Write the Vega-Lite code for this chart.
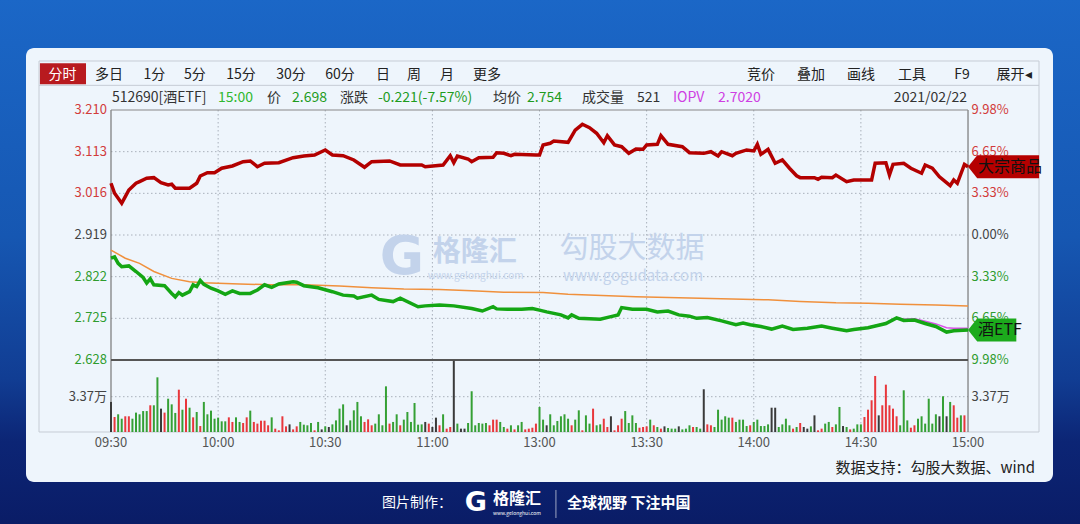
{
"$schema": "https://vega.github.io/schema/vega-lite/v6.json",
"width": 1027,
"height": 434,
"autosize": {"type": "none"},
"padding": {"left": 26, "top": 48, "right": 27, "bottom": 42},
"background": "#1659b4",
"config": {"view": {"stroke": null}, "font": "Noto Sans CJK SC"},
"data": {"values": [{}]},
"datasets": {
"price": [{"i":0,"p":2.865},{"i":1,"p":2.868},{"i":2,"p":2.853},{"i":3,"p":2.845},{"i":5,"p":2.847},{"i":7,"p":2.834},{"i":9,"p":2.82},{"i":10,"p":2.807},{"i":11,"p":2.817},{"i":12,"p":2.803},{"i":15,"p":2.801},{"i":17,"p":2.783},{"i":18,"p":2.775},{"i":19,"p":2.785},{"i":20,"p":2.779},{"i":22,"p":2.787},{"i":23,"p":2.803},{"i":24,"p":2.799},{"i":25,"p":2.813},{"i":26,"p":2.804},{"i":28,"p":2.795},{"i":30,"p":2.789},{"i":32,"p":2.781},{"i":34,"p":2.789},{"i":36,"p":2.783},{"i":39,"p":2.783},{"i":41,"p":2.791},{"i":43,"p":2.803},{"i":45,"p":2.797},{"i":47,"p":2.805},{"i":51,"p":2.81},{"i":52,"p":2.809},{"i":54,"p":2.801},{"i":58,"p":2.796},{"i":62,"p":2.787},{"i":65,"p":2.779},{"i":68,"p":2.777},{"i":69,"p":2.772},{"i":73,"p":2.779},{"i":75,"p":2.769},{"i":79,"p":2.764},{"i":81,"p":2.772},{"i":86,"p":2.752},{"i":88,"p":2.754},{"i":92,"p":2.756},{"i":96,"p":2.754},{"i":101,"p":2.748},{"i":104,"p":2.742},{"i":107,"p":2.752},{"i":108,"p":2.747},{"i":111,"p":2.746},{"i":115,"p":2.746},{"i":118,"p":2.748},{"i":120,"p":2.744},{"i":122,"p":2.74},{"i":126,"p":2.733},{"i":128,"p":2.726},{"i":129,"p":2.733},{"i":131,"p":2.725},{"i":137,"p":2.723},{"i":140,"p":2.729},{"i":142,"p":2.733},{"i":143,"p":2.75},{"i":146,"p":2.746},{"i":150,"p":2.746},{"i":153,"p":2.74},{"i":156,"p":2.742},{"i":159,"p":2.733},{"i":162,"p":2.73},{"i":164,"p":2.725},{"i":167,"p":2.727},{"i":171,"p":2.719},{"i":175,"p":2.71},{"i":177,"p":2.714},{"i":179,"p":2.71},{"i":182,"p":2.706},{"i":185,"p":2.7},{"i":188,"p":2.707},{"i":191,"p":2.699},{"i":195,"p":2.702},{"i":199,"p":2.707},{"i":202,"p":2.702},{"i":206,"p":2.696},{"i":208,"p":2.699},{"i":212,"p":2.703},{"i":217,"p":2.713},{"i":220,"p":2.726},{"i":222,"p":2.72},{"i":225,"p":2.721},{"i":228,"p":2.713},{"i":231,"p":2.706},{"i":234,"p":2.693},{"i":236,"p":2.696},{"i":240,"p":2.698}],
"avg": [{"i":0,"p":2.884},{"i":4,"p":2.865},{"i":8,"p":2.853},{"i":12,"p":2.834},{"i":17,"p":2.818},{"i":22,"p":2.81},{"i":26,"p":2.808},{"i":36,"p":2.805},{"i":45,"p":2.803},{"i":54,"p":2.803},{"i":64,"p":2.8},{"i":73,"p":2.796},{"i":82,"p":2.793},{"i":92,"p":2.792},{"i":101,"p":2.789},{"i":110,"p":2.786},{"i":121,"p":2.785},{"i":128,"p":2.781},{"i":147,"p":2.775},{"i":165,"p":2.772},{"i":184,"p":2.768},{"i":193,"p":2.764},{"i":203,"p":2.761},{"i":212,"p":2.76},{"i":221,"p":2.758},{"i":231,"p":2.756},{"i":240,"p":2.754}],
"iopv": [{"i":206,"p":2.697},{"i":212,"p":2.704},{"i":217,"p":2.714},{"i":220,"p":2.727},{"i":222,"p":2.723},{"i":225,"p":2.724},{"i":228,"p":2.718},{"i":231,"p":2.712},{"i":234,"p":2.703},{"i":236,"p":2.702},{"i":240,"p":2.702}],
"cmp": [{"i":0,"c":4.13},{"i":1,"c":3.33},{"i":3,"c":2.53},{"i":4,"c":3.06},{"i":5,"c":3.59},{"i":7,"c":4.13},{"i":8,"c":4.26},{"i":10,"c":4.53},{"i":12,"c":4.58},{"i":14,"c":4.18},{"i":16,"c":3.99},{"i":17,"c":4.05},{"i":18,"c":3.73},{"i":22,"c":3.73},{"i":24,"c":4.13},{"i":25,"c":4.71},{"i":27,"c":4.97},{"i":29,"c":4.97},{"i":31,"c":5.33},{"i":34,"c":5.51},{"i":37,"c":5.85},{"i":39,"c":5.91},{"i":41,"c":5.45},{"i":43,"c":5.73},{"i":47,"c":5.77},{"i":51,"c":6.17},{"i":54,"c":6.31},{"i":57,"c":6.39},{"i":60,"c":6.79},{"i":62,"c":6.39},{"i":65,"c":6.33},{"i":68,"c":5.99},{"i":71,"c":5.41},{"i":73,"c":5.85},{"i":78,"c":5.91},{"i":81,"c":5.59},{"i":87,"c":5.59},{"i":88,"c":5.45},{"i":93,"c":5.59},{"i":95,"c":6.33},{"i":96,"c":5.77},{"i":97,"c":6.31},{"i":100,"c":6.07},{"i":101,"c":5.85},{"i":103,"c":6.17},{"i":107,"c":6.2},{"i":108,"c":6.57},{"i":110,"c":6.52},{"i":112,"c":6.33},{"i":113,"c":6.44},{"i":119,"c":6.39},{"i":120,"c":6.39},{"i":121,"c":7.19},{"i":123,"c":7.32},{"i":124,"c":7.5},{"i":128,"c":7.4},{"i":130,"c":8.38},{"i":132,"c":8.84},{"i":134,"c":8.57},{"i":136,"c":8.12},{"i":138,"c":7.37},{"i":139,"c":7.93},{"i":141,"c":7.19},{"i":143,"c":7.05},{"i":145,"c":6.52},{"i":147,"c":6.87},{"i":149,"c":6.84},{"i":150,"c":7.19},{"i":153,"c":7.24},{"i":154,"c":7.93},{"i":156,"c":7.24},{"i":160,"c":7.05},{"i":162,"c":6.57},{"i":166,"c":6.52},{"i":168,"c":6.65},{"i":170,"c":6.31},{"i":171,"c":6.65},{"i":174,"c":6.33},{"i":175,"c":6.52},{"i":178,"c":6.79},{"i":180,"c":6.71},{"i":181,"c":7.24},{"i":182,"c":6.44},{"i":184,"c":6.84},{"i":186,"c":5.73},{"i":188,"c":5.99},{"i":190,"c":5.33},{"i":192,"c":4.73},{"i":193,"c":4.58},{"i":197,"c":4.58},{"i":198,"c":4.45},{"i":199,"c":4.61},{"i":202,"c":4.58},{"i":203,"c":4.79},{"i":206,"c":4.26},{"i":208,"c":4.39},{"i":213,"c":4.39},{"i":214,"c":5.73},{"i":217,"c":5.77},{"i":218,"c":4.79},{"i":219,"c":5.64},{"i":222,"c":5.73},{"i":224,"c":5.33},{"i":227,"c":4.93},{"i":228,"c":5.59},{"i":230,"c":5.33},{"i":232,"c":4.65},{"i":235,"c":3.94},{"i":236,"c":4.39},{"i":237,"c":4.13},{"i":239,"c":5.64},{"i":240,"c":5.45}],
"vol": [{"i":0,"v":2.87,"d":"f"},{"i":1,"v":1.43,"d":"u"},{"i":2,"v":1.69,"d":"d"},{"i":3,"v":1.27,"d":"d"},{"i":4,"v":1.5,"d":"u"},{"i":5,"v":1.5,"d":"u"},{"i":6,"v":1.27,"d":"d"},{"i":7,"v":1.85,"d":"d"},{"i":8,"v":1.69,"d":"d"},{"i":9,"v":2.0,"d":"d"},{"i":10,"v":2.0,"d":"d"},{"i":11,"v":2.55,"d":"u"},{"i":12,"v":2.55,"d":"d"},{"i":13,"v":5.22,"d":"d"},{"i":14,"v":2.23,"d":"f"},{"i":15,"v":1.85,"d":"u"},{"i":16,"v":3.18,"d":"d"},{"i":17,"v":2.64,"d":"d"},{"i":18,"v":1.82,"d":"d"},{"i":19,"v":4.04,"d":"u"},{"i":20,"v":2.13,"d":"d"},{"i":21,"v":3.18,"d":"u"},{"i":22,"v":2.32,"d":"d"},{"i":23,"v":1.4,"d":"u"},{"i":24,"v":1.91,"d":"d"},{"i":25,"v":0.57,"d":"u"},{"i":26,"v":2.87,"d":"d"},{"i":27,"v":1.69,"d":"d"},{"i":28,"v":2.04,"d":"d"},{"i":29,"v":1.27,"d":"d"},{"i":30,"v":1.37,"d":"d"},{"i":31,"v":1.02,"d":"d"},{"i":32,"v":1.02,"d":"d"},{"i":33,"v":1.4,"d":"u"},{"i":34,"v":0.96,"d":"u"},{"i":35,"v":1.4,"d":"d"},{"i":36,"v":0.96,"d":"d"},{"i":37,"v":0.86,"d":"u"},{"i":38,"v":1.4,"d":"u"},{"i":39,"v":2.04,"d":"d"},{"i":40,"v":0.96,"d":"u"},{"i":41,"v":0.8,"d":"u"},{"i":42,"v":1.08,"d":"u"},{"i":43,"v":1.08,"d":"u"},{"i":44,"v":0.64,"d":"u"},{"i":45,"v":1.4,"d":"d"},{"i":46,"v":0.32,"d":"u"},{"i":47,"v":0.16,"d":"u"},{"i":48,"v":1.5,"d":"u"},{"i":49,"v":0.54,"d":"u"},{"i":50,"v":0.73,"d":"f"},{"i":51,"v":0.25,"d":"u"},{"i":52,"v":0.54,"d":"u"},{"i":53,"v":0.96,"d":"d"},{"i":54,"v":0.7,"d":"d"},{"i":55,"v":0.64,"d":"d"},{"i":56,"v":0.86,"d":"d"},{"i":57,"v":0.16,"d":"u"},{"i":58,"v":0.96,"d":"d"},{"i":59,"v":0.25,"d":"f"},{"i":60,"v":0.54,"d":"d"},{"i":61,"v":0.48,"d":"f"},{"i":62,"v":0.73,"d":"d"},{"i":63,"v":1.11,"d":"d"},{"i":64,"v":2.23,"d":"d"},{"i":65,"v":2.64,"d":"d"},{"i":66,"v":0.64,"d":"f"},{"i":67,"v":1.11,"d":"d"},{"i":68,"v":2.07,"d":"d"},{"i":69,"v":2.87,"d":"d"},{"i":70,"v":1.5,"d":"d"},{"i":71,"v":0.96,"d":"u"},{"i":72,"v":1.21,"d":"u"},{"i":73,"v":0.64,"d":"u"},{"i":74,"v":0.8,"d":"d"},{"i":75,"v":1.69,"d":"d"},{"i":76,"v":0.64,"d":"d"},{"i":77,"v":4.36,"d":"d"},{"i":78,"v":0.8,"d":"u"},{"i":79,"v":0.96,"d":"d"},{"i":80,"v":1.69,"d":"d"},{"i":81,"v":0.64,"d":"u"},{"i":82,"v":1.18,"d":"d"},{"i":83,"v":1.91,"d":"d"},{"i":84,"v":0.96,"d":"d"},{"i":85,"v":2.77,"d":"d"},{"i":86,"v":0.7,"d":"d"},{"i":87,"v":0.73,"d":"d"},{"i":88,"v":0.96,"d":"f"},{"i":89,"v":0.8,"d":"u"},{"i":90,"v":0.48,"d":"f"},{"i":91,"v":1.37,"d":"f"},{"i":92,"v":0.64,"d":"u"},{"i":93,"v":1.69,"d":"d"},{"i":94,"v":0.32,"d":"u"},{"i":95,"v":0.48,"d":"u"},{"i":96,"v":6.8,"d":"f"},{"i":97,"v":0.8,"d":"d"},{"i":98,"v":0.32,"d":"f"},{"i":99,"v":0.32,"d":"f"},{"i":100,"v":0.86,"d":"d"},{"i":101,"v":3.89,"d":"d"},{"i":102,"v":0.64,"d":"d"},{"i":103,"v":0.86,"d":"d"},{"i":104,"v":0.8,"d":"d"},{"i":105,"v":0.86,"d":"d"},{"i":106,"v":0.64,"d":"u"},{"i":107,"v":1.18,"d":"u"},{"i":108,"v":1.18,"d":"u"},{"i":109,"v":0.96,"d":"d"},{"i":110,"v":0.48,"d":"d"},{"i":111,"v":0.32,"d":"u"},{"i":112,"v":0.64,"d":"d"},{"i":113,"v":0.25,"d":"u"},{"i":114,"v":0.64,"d":"d"},{"i":115,"v":0.96,"d":"d"},{"i":116,"v":0.25,"d":"u"},{"i":117,"v":0.32,"d":"u"},{"i":118,"v":0.41,"d":"u"},{"i":119,"v":0.8,"d":"u"},{"i":120,"v":2.39,"d":"d"},{"i":121,"v":1.18,"d":"d"},{"i":122,"v":0.64,"d":"f"},{"i":123,"v":1.69,"d":"d"},{"i":124,"v":0.64,"d":"d"},{"i":125,"v":1.05,"d":"d"},{"i":126,"v":1.5,"d":"d"},{"i":127,"v":1.69,"d":"d"},{"i":128,"v":1.27,"d":"d"},{"i":129,"v":0.64,"d":"u"},{"i":130,"v":1.18,"d":"d"},{"i":131,"v":2.07,"d":"d"},{"i":132,"v":0.16,"d":"u"},{"i":133,"v":1.59,"d":"d"},{"i":134,"v":0.8,"d":"d"},{"i":135,"v":2.23,"d":"u"},{"i":136,"v":0.64,"d":"d"},{"i":137,"v":0.73,"d":"d"},{"i":138,"v":1.27,"d":"u"},{"i":139,"v":0.48,"d":"u"},{"i":140,"v":1.5,"d":"f"},{"i":141,"v":0.16,"d":"u"},{"i":142,"v":0.64,"d":"u"},{"i":143,"v":1.27,"d":"u"},{"i":144,"v":2.0,"d":"d"},{"i":145,"v":0.86,"d":"d"},{"i":146,"v":1.59,"d":"d"},{"i":147,"v":0.86,"d":"d"},{"i":148,"v":0.41,"d":"u"},{"i":149,"v":0.48,"d":"u"},{"i":150,"v":0.54,"d":"u"},{"i":151,"v":1.18,"d":"d"},{"i":152,"v":0.64,"d":"u"},{"i":153,"v":0.48,"d":"d"},{"i":154,"v":0.32,"d":"u"},{"i":155,"v":0.54,"d":"f"},{"i":156,"v":0.38,"d":"d"},{"i":157,"v":0.32,"d":"d"},{"i":158,"v":0.32,"d":"d"},{"i":159,"v":0.54,"d":"f"},{"i":160,"v":0.25,"d":"d"},{"i":161,"v":0.32,"d":"d"},{"i":162,"v":0.64,"d":"d"},{"i":163,"v":0.48,"d":"u"},{"i":164,"v":0.48,"d":"d"},{"i":165,"v":0.32,"d":"d"},{"i":166,"v":4.08,"d":"f"},{"i":167,"v":0.73,"d":"u"},{"i":168,"v":0.64,"d":"u"},{"i":169,"v":0.48,"d":"d"},{"i":170,"v":2.13,"d":"d"},{"i":171,"v":1.18,"d":"d"},{"i":172,"v":1.5,"d":"d"},{"i":173,"v":1.37,"d":"d"},{"i":174,"v":1.37,"d":"u"},{"i":175,"v":0.96,"d":"d"},{"i":176,"v":1.18,"d":"d"},{"i":177,"v":1.18,"d":"d"},{"i":178,"v":0.57,"d":"d"},{"i":179,"v":0.64,"d":"u"},{"i":180,"v":0.96,"d":"d"},{"i":181,"v":1.18,"d":"d"},{"i":182,"v":0.57,"d":"d"},{"i":183,"v":0.57,"d":"d"},{"i":184,"v":0.73,"d":"d"},{"i":185,"v":2.32,"d":"f"},{"i":186,"v":2.32,"d":"f"},{"i":187,"v":0.48,"d":"d"},{"i":188,"v":0.73,"d":"d"},{"i":189,"v":1.27,"d":"d"},{"i":190,"v":0.64,"d":"d"},{"i":191,"v":0.32,"d":"u"},{"i":192,"v":0.48,"d":"d"},{"i":193,"v":0.86,"d":"u"},{"i":194,"v":0.48,"d":"f"},{"i":195,"v":0.32,"d":"f"},{"i":196,"v":0.54,"d":"d"},{"i":197,"v":1.59,"d":"f"},{"i":198,"v":0.16,"d":"u"},{"i":199,"v":0.32,"d":"u"},{"i":200,"v":0.8,"d":"d"},{"i":201,"v":0.96,"d":"d"},{"i":202,"v":0.48,"d":"u"},{"i":203,"v":0.73,"d":"d"},{"i":204,"v":2.39,"d":"d"},{"i":205,"v":0.57,"d":"f"},{"i":206,"v":0.48,"d":"d"},{"i":207,"v":0.25,"d":"u"},{"i":208,"v":0.32,"d":"d"},{"i":209,"v":0.73,"d":"d"},{"i":210,"v":0.73,"d":"d"},{"i":211,"v":1.43,"d":"u"},{"i":212,"v":2.13,"d":"u"},{"i":213,"v":3.03,"d":"u"},{"i":214,"v":5.35,"d":"u"},{"i":215,"v":1.59,"d":"f"},{"i":216,"v":2.55,"d":"u"},{"i":217,"v":4.52,"d":"u"},{"i":218,"v":2.55,"d":"u"},{"i":219,"v":2.23,"d":"u"},{"i":220,"v":1.5,"d":"u"},{"i":221,"v":0.64,"d":"d"},{"i":222,"v":3.98,"d":"d"},{"i":223,"v":1.11,"d":"d"},{"i":224,"v":0.41,"d":"u"},{"i":225,"v":0.64,"d":"u"},{"i":226,"v":1.27,"d":"d"},{"i":227,"v":1.5,"d":"d"},{"i":228,"v":0.8,"d":"d"},{"i":229,"v":3.18,"d":"d"},{"i":230,"v":0.8,"d":"d"},{"i":231,"v":1.69,"d":"d"},{"i":232,"v":1.5,"d":"f"},{"i":233,"v":3.41,"d":"d"},{"i":234,"v":1.5,"d":"f"},{"i":235,"v":2.87,"d":"d"},{"i":236,"v":2.55,"d":"u"},{"i":237,"v":1.37,"d":"u"},{"i":238,"v":1.59,"d":"d"},{"i":239,"v":1.59,"d":"u"}],
"toolbar": [{"i":-0.56,"t":"多日"},{"i":12.18,"t":"1分"},{"i":23.52,"t":"5分"},{"i":36.41,"t":"15分"},{"i":50.41,"t":"30分"},{"i":64.13,"t":"60分"},{"i":76.17,"t":"日"},{"i":84.85,"t":"周"},{"i":94.1,"t":"月"},{"i":105.3,"t":"更多"},{"i":182.03,"t":"竞价"},{"i":196.03,"t":"叠加"},{"i":210.04,"t":"画线"},{"i":224.32,"t":"工具"},{"i":238.32,"t":"F9"},{"i":252.88,"t":"展开◂"}],
"info": [{"i":0.28,"t":"512690[酒ETF]","k":"lab"},{"i":29.97,"t":"15:00","k":"time"},{"i":43.69,"t":"价","k":"lab"},{"i":50.69,"t":"2.698","k":"val"},{"i":64.13,"t":"涨跌","k":"lab"},{"i":74.77,"t":"-0.221(-7.57%)","k":"val"},{"i":106.98,"t":"均价","k":"lab"},{"i":116.5,"t":"2.754","k":"val"},{"i":131.9,"t":"成交量","k":"lab"},{"i":147.31,"t":"521","k":"lab"},{"i":157.39,"t":"IOPV","k":"iopv"},{"i":169.99,"t":"2.7020","k":"iopv"}],
"leftlab": [{"p":3.21,"t":"3.210","k":"up"},{"p":3.113,"t":"3.113","k":"up"},{"p":3.016,"t":"3.016","k":"up"},{"p":2.919,"t":"2.919","k":"flat"},{"p":2.822,"t":"2.822","k":"down"},{"p":2.725,"t":"2.725","k":"down"},{"p":2.628,"t":"2.628","k":"down"},{"p":2.5426,"t":"3.37万","k":"flat"}],
"rightlab": [{"p":3.21,"t":"9.98%","k":"up"},{"p":3.113,"t":"6.65%","k":"up"},{"p":3.016,"t":"3.33%","k":"up"},{"p":2.919,"t":"0.00%","k":"flat"},{"p":2.822,"t":"3.33%","k":"down"},{"p":2.725,"t":"6.65%","k":"down"},{"p":2.628,"t":"9.98%","k":"down"},{"p":2.5426,"t":"3.37万","k":"flat"}],
"timelab": [{"i":0,"t":"09:30"},{"i":30,"t":"10:00"},{"i":60,"t":"10:30"},{"i":90,"t":"11:00"},{"i":120,"t":"13:00"},{"i":150,"t":"13:30"},{"i":180,"t":"14:00"},{"i":210,"t":"14:30"},{"i":240,"t":"15:00"}],
"tagtext": [{"p":3.078,"t":"大宗商品"},{"p":2.6978,"t":"酒ETF"}]
},
"resolve": {"scale": {"y": "independent", "color": "independent"}},
"layer": [
{"mark": {"type": "rect", "fill": {"gradient": "linear", "x1": 0, "y1": 0, "x2": 0, "y2": 1, "stops": [{"offset": 0, "color": "#1b67c7"}, {"offset": 0.45, "color": "#1657b2"}, {"offset": 0.72, "color": "#113d93"}, {"offset": 0.84, "color": "#0c2575"}, {"offset": 1, "color": "#0a1c66"}]}},
 "encoding": {"x": {"datum": -32, "type": "quantitative", "scale": {"domain": [-23.804, 263.8], "nice": false, "zero": false}, "axis": null}, "x2": {"datum": 273}, "y": {"datum": 3.47, "type": "quantitative", "scale": {"domain": [2.34398, 3.35434], "nice": false, "zero": false}, "axis": null}, "y2": {"datum": 2.24}}},
{"mark": {"type": "rect", "fill": "#eef5fc", "cornerRadius": 8},
 "encoding": {"x": {"datum": -23.804, "type": "quantitative", "scale": {"domain": [-23.804, 263.8], "nice": false, "zero": false}, "axis": null}, "x2": {"datum": 263.8}, "y": {"datum": 3.35434, "type": "quantitative", "scale": {"domain": [2.34398, 3.35434], "nice": false, "zero": false}, "axis": null}, "y2": {"datum": 2.34398}}},
{"mark": {"type": "rect", "fill": "transparent", "stroke": "#c6ccd5", "strokeWidth": 1},
 "encoding": {"x": {"datum": -20.16, "type": "quantitative", "scale": {"domain": [-23.804, 263.8], "nice": false, "zero": false}, "axis": null}, "x2": {"datum": 259.88}, "y": {"datum": 3.3241, "type": "quantitative", "scale": {"domain": [2.34398, 3.35434], "nice": false, "zero": false}, "axis": null}, "y2": {"datum": 2.4604}}},
{"mark": {"type": "rule", "color": "#c6ccd5", "strokeWidth": 1},
 "encoding": {"x": {"datum": -20.16, "type": "quantitative", "scale": {"domain": [-23.804, 263.8], "nice": false, "zero": false}, "axis": null}, "x2": {"datum": 259.88}, "y": {"datum": 3.2674, "type": "quantitative", "scale": {"domain": [2.34398, 3.35434], "nice": false, "zero": false}, "axis": null}}},
{"mark": {"type": "rect", "fill": "#b81a1f"},
 "encoding": {"x": {"datum": -19.9, "type": "quantitative", "scale": {"domain": [-23.804, 263.8], "nice": false, "zero": false}, "axis": null}, "x2": {"datum": -7.0}, "y": {"datum": 3.3187, "type": "quantitative", "scale": {"domain": [2.34398, 3.35434], "nice": false, "zero": false}, "axis": null}, "y2": {"datum": 3.2698}}},
{"data": {"values": [{"p": 3.113}, {"p": 3.016}, {"p": 2.919}, {"p": 2.822}, {"p": 2.725}]},
 "mark": {"type": "rule", "color": "#a9b0bb", "strokeWidth": 1, "strokeDash": [1.5, 2.5]},
 "encoding": {"x": {"datum": 0, "type": "quantitative", "scale": {"domain": [-23.804, 263.8], "nice": false, "zero": false}, "axis": null}, "x2": {"datum": 240}, "y": {"field": "p", "type": "quantitative", "scale": {"domain": [2.34398, 3.35434], "nice": false, "zero": false}, "axis": null}}},
{"data": {"values": [{"v": 3.37}]},
 "mark": {"type": "rule", "color": "#a9b0bb", "strokeWidth": 1, "strokeDash": [1.5, 2.5]},
 "encoding": {"x": {"datum": 0, "type": "quantitative", "scale": {"domain": [-23.804, 263.8], "nice": false, "zero": false}, "axis": null}, "x2": {"datum": 240}, "y": {"field": "v", "type": "quantitative", "scale": {"domain": [-4.773, 36.659], "nice": false, "zero": false}, "axis": null}}},
{"data": {"values": [{"i": 30}, {"i": 60}, {"i": 90}, {"i": 120}, {"i": 150}, {"i": 180}, {"i": 210}]},
 "mark": {"type": "rule", "color": "#a9b0bb", "strokeWidth": 1, "strokeDash": [1.5, 2.5]},
 "encoding": {"x": {"field": "i", "type": "quantitative", "scale": {"domain": [-23.804, 263.8], "nice": false, "zero": false}, "axis": null}, "y": {"datum": 3.21, "type": "quantitative", "scale": {"domain": [2.34398, 3.35434], "nice": false, "zero": false}, "axis": null}, "y2": {"datum": 2.4604}}},
{"data": {"values": [{"i": 0}, {"i": 240}]},
 "mark": {"type": "rule", "color": "#777777", "strokeWidth": 1.2},
 "encoding": {"x": {"field": "i", "type": "quantitative", "scale": {"domain": [-23.804, 263.8], "nice": false, "zero": false}, "axis": null}, "y": {"datum": 3.21, "type": "quantitative", "scale": {"domain": [2.34398, 3.35434], "nice": false, "zero": false}, "axis": null}, "y2": {"datum": 2.4604}}},
{"mark": {"type": "rule", "color": "#888888", "strokeWidth": 1.2},
 "encoding": {"x": {"datum": 0, "type": "quantitative", "scale": {"domain": [-23.804, 263.8], "nice": false, "zero": false}, "axis": null}, "x2": {"datum": 240}, "y": {"datum": 3.21, "type": "quantitative", "scale": {"domain": [2.34398, 3.35434], "nice": false, "zero": false}, "axis": null}}},
{"mark": {"type": "rule", "color": "#555555", "strokeWidth": 1.8},
 "encoding": {"x": {"datum": 0, "type": "quantitative", "scale": {"domain": [-23.804, 263.8], "nice": false, "zero": false}, "axis": null}, "x2": {"datum": 240}, "y": {"datum": 2.628, "type": "quantitative", "scale": {"domain": [2.34398, 3.35434], "nice": false, "zero": false}, "axis": null}}},
{"mark": {"type": "text", "text": "G", "fontSize": 54, "fontWeight": 900, "color": "#c3d3eb", "align": "center", "baseline": "middle", "font": "DejaVu Sans"},
 "encoding": {"x": {"datum": 81.5, "type": "quantitative", "scale": {"domain": [-23.804, 263.8], "nice": false, "zero": false}, "axis": null}, "y": {"datum": 2.8666, "type": "quantitative", "scale": {"domain": [2.34398, 3.35434], "nice": false, "zero": false}, "axis": null}}},
{"mark": {"type": "text", "text": "格隆汇", "fontSize": 28, "fontWeight": "bold", "color": "#c3d3eb", "align": "center", "baseline": "middle"},
 "encoding": {"x": {"datum": 101.9, "type": "quantitative", "scale": {"domain": [-23.804, 263.8], "nice": false, "zero": false}, "axis": null}, "y": {"datum": 2.8770, "type": "quantitative", "scale": {"domain": [2.34398, 3.35434], "nice": false, "zero": false}, "axis": null}}},
{"mark": {"type": "text", "text": "www.gelonghui.com", "fontSize": 10, "color": "#c3d3eb", "align": "center", "baseline": "middle"},
 "encoding": {"x": {"datum": 102.1, "type": "quantitative", "scale": {"domain": [-23.804, 263.8], "nice": false, "zero": false}, "axis": null}, "y": {"datum": 2.8236, "type": "quantitative", "scale": {"domain": [2.34398, 3.35434], "nice": false, "zero": false}, "axis": null}}},
{"mark": {"type": "text", "text": "勾股大数据", "fontSize": 29, "color": "#c3d3eb", "align": "center", "baseline": "middle"},
 "encoding": {"x": {"datum": 145.9, "type": "quantitative", "scale": {"domain": [-23.804, 263.8], "nice": false, "zero": false}, "axis": null}, "y": {"datum": 2.8870, "type": "quantitative", "scale": {"domain": [2.34398, 3.35434], "nice": false, "zero": false}, "axis": null}}},
{"mark": {"type": "text", "text": "www.gogudata.com", "fontSize": 15, "color": "#c3d3eb", "align": "center", "baseline": "middle"},
 "encoding": {"x": {"datum": 146.2, "type": "quantitative", "scale": {"domain": [-23.804, 263.8], "nice": false, "zero": false}, "axis": null}, "y": {"datum": 2.8236, "type": "quantitative", "scale": {"domain": [2.34398, 3.35434], "nice": false, "zero": false}, "axis": null}}},
{"data": {"name": "vol"},
 "mark": {"type": "rule", "strokeWidth": 2},
 "encoding": {"x": {"field": "i", "type": "quantitative", "scale": {"domain": [-23.804, 263.8], "nice": false, "zero": false}, "axis": null}, "y": {"field": "v", "type": "quantitative", "scale": {"domain": [-4.773, 36.659], "nice": false, "zero": false}, "axis": null}, "y2": {"datum": 0}, "color": {"field": "d", "type": "nominal", "scale": {"domain": ["u", "d", "f"], "range": ["#e8373c", "#35a035", "#3a3a3a"]}, "legend": null}}},
{"data": {"name": "leftlab"},
 "mark": {"type": "text", "fontSize": 13, "align": "right", "baseline": "middle"},
 "encoding": {"x": {"datum": -1.12, "type": "quantitative", "scale": {"domain": [-23.804, 263.8], "nice": false, "zero": false}, "axis": null}, "y": {"field": "p", "type": "quantitative", "scale": {"domain": [2.34398, 3.35434], "nice": false, "zero": false}, "axis": null}, "text": {"field": "t"}, "color": {"field": "k", "type": "nominal", "scale": {"domain": ["up", "flat", "down"], "range": ["#d23b3b", "#444444", "#2e9c2e"]}, "legend": null}}},
{"data": {"name": "rightlab"},
 "mark": {"type": "text", "fontSize": 13, "align": "left", "baseline": "middle"},
 "encoding": {"x": {"datum": 240.98, "type": "quantitative", "scale": {"domain": [-23.804, 263.8], "nice": false, "zero": false}, "axis": null}, "y": {"field": "p", "type": "quantitative", "scale": {"domain": [2.34398, 3.35434], "nice": false, "zero": false}, "axis": null}, "text": {"field": "t"}, "color": {"field": "k", "type": "nominal", "scale": {"domain": ["up", "flat", "down"], "range": ["#d23b3b", "#444444", "#2e9c2e"]}, "legend": null}}},
{"data": {"name": "timelab"},
 "mark": {"type": "text", "fontSize": 13, "align": "center", "baseline": "middle", "color": "#555555"},
 "encoding": {"x": {"field": "i", "type": "quantitative", "scale": {"domain": [-23.804, 263.8], "nice": false, "zero": false}, "axis": null}, "y": {"datum": 2.4348, "type": "quantitative", "scale": {"domain": [2.34398, 3.35434], "nice": false, "zero": false}, "axis": null}, "text": {"field": "t"}}},
{"data": {"name": "avg"},
 "mark": {"type": "line", "color": "#f0903c", "strokeWidth": 1.5},
 "encoding": {"x": {"field": "i", "type": "quantitative", "scale": {"domain": [-23.804, 263.8], "nice": false, "zero": false}, "axis": null}, "y": {"field": "p", "type": "quantitative", "scale": {"domain": [2.34398, 3.35434], "nice": false, "zero": false}, "axis": null}}},
{"data": {"name": "iopv"},
 "mark": {"type": "line", "color": "#d84fe8", "strokeWidth": 1.5},
 "encoding": {"x": {"field": "i", "type": "quantitative", "scale": {"domain": [-23.804, 263.8], "nice": false, "zero": false}, "axis": null}, "y": {"field": "p", "type": "quantitative", "scale": {"domain": [2.34398, 3.35434], "nice": false, "zero": false}, "axis": null}}},
{"data": {"name": "price"},
 "mark": {"type": "line", "color": "#14a614", "strokeWidth": 3.5},
 "encoding": {"x": {"field": "i", "type": "quantitative", "scale": {"domain": [-23.804, 263.8], "nice": false, "zero": false}, "axis": null}, "y": {"field": "p", "type": "quantitative", "scale": {"domain": [2.34398, 3.35434], "nice": false, "zero": false}, "axis": null}}},
{"data": {"name": "cmp"},
 "mark": {"type": "line", "color": "#b30000", "strokeWidth": 3.5},
 "encoding": {"x": {"field": "i", "type": "quantitative", "scale": {"domain": [-23.804, 263.8], "nice": false, "zero": false}, "axis": null}, "y": {"field": "c", "type": "quantitative", "scale": {"domain": [-19.721, 14.93], "nice": false, "zero": false}, "axis": null}}},
{"mark": {"type": "point", "shape": "M0,0L0.4,-0.5L3.09,-0.5L3.09,0.5L0.4,0.5Z", "filled": true, "size": 2116, "color": "#b50000", "opacity": 1, "strokeWidth": 0},
 "encoding": {"x": {"datum": 240, "type": "quantitative", "scale": {"domain": [-23.804, 263.8], "nice": false, "zero": false}, "axis": null}, "y": {"datum": 3.078, "type": "quantitative", "scale": {"domain": [2.34398, 3.35434], "nice": false, "zero": false}, "axis": null}}},
{"mark": {"type": "point", "shape": "M0,0L0.4,-0.5L2.1,-0.5L2.1,0.5L0.4,0.5Z", "filled": true, "size": 2116, "color": "#1caa1c", "opacity": 1, "strokeWidth": 0},
 "encoding": {"x": {"datum": 240, "type": "quantitative", "scale": {"domain": [-23.804, 263.8], "nice": false, "zero": false}, "axis": null}, "y": {"datum": 2.6978, "type": "quantitative", "scale": {"domain": [2.34398, 3.35434], "nice": false, "zero": false}, "axis": null}}},
{"data": {"name": "tagtext"},
 "mark": {"type": "text", "fontSize": 16, "align": "left", "baseline": "middle", "color": "#111111"},
 "encoding": {"x": {"datum": 242.8, "type": "quantitative", "scale": {"domain": [-23.804, 263.8], "nice": false, "zero": false}, "axis": null}, "y": {"field": "p", "type": "quantitative", "scale": {"domain": [2.34398, 3.35434], "nice": false, "zero": false}, "axis": null}, "text": {"field": "t"}}},
{"data": {"name": "toolbar"},
 "mark": {"type": "text", "fontSize": 14, "align": "center", "baseline": "middle", "color": "#222222"},
 "encoding": {"x": {"field": "i", "type": "quantitative", "scale": {"domain": [-23.804, 263.8], "nice": false, "zero": false}, "axis": null}, "y": {"datum": 3.2922, "type": "quantitative", "scale": {"domain": [2.34398, 3.35434], "nice": false, "zero": false}, "axis": null}, "text": {"field": "t"}}},
{"mark": {"type": "text", "text": "分时", "fontSize": 14, "align": "center", "baseline": "middle", "color": "#ffffff"},
 "encoding": {"x": {"datum": -13.58, "type": "quantitative", "scale": {"domain": [-23.804, 263.8], "nice": false, "zero": false}, "axis": null}, "y": {"datum": 3.2922, "type": "quantitative", "scale": {"domain": [2.34398, 3.35434], "nice": false, "zero": false}, "axis": null}}},
{"data": {"name": "info"},
 "mark": {"type": "text", "fontSize": 14, "align": "left", "baseline": "middle"},
 "encoding": {"x": {"field": "i", "type": "quantitative", "scale": {"domain": [-23.804, 263.8], "nice": false, "zero": false}, "axis": null}, "y": {"datum": 3.2379, "type": "quantitative", "scale": {"domain": [2.34398, 3.35434], "nice": false, "zero": false}, "axis": null}, "text": {"field": "t"}, "color": {"field": "k", "type": "nominal", "scale": {"domain": ["lab", "time", "val", "iopv"], "range": ["#333333", "#2fb82f", "#1e9c1e", "#cf3fe3"]}, "legend": null}}},
{"mark": {"type": "text", "text": "2021/02/22", "fontSize": 14, "align": "right", "baseline": "middle", "color": "#333333"},
 "encoding": {"x": {"datum": 239.72, "type": "quantitative", "scale": {"domain": [-23.804, 263.8], "nice": false, "zero": false}, "axis": null}, "y": {"datum": 3.2379, "type": "quantitative", "scale": {"domain": [2.34398, 3.35434], "nice": false, "zero": false}, "axis": null}}},
{"mark": {"type": "text", "text": "数据支持：勾股大数据、wind", "fontSize": 15, "align": "right", "baseline": "middle", "color": "#222222"},
 "encoding": {"x": {"datum": 258.76, "type": "quantitative", "scale": {"domain": [-23.804, 263.8], "nice": false, "zero": false}, "axis": null}, "y": {"datum": 2.3766, "type": "quantitative", "scale": {"domain": [2.34398, 3.35434], "nice": false, "zero": false}, "axis": null}}},
{"mark": {"type": "text", "text": "图片制作：", "fontSize": 14, "align": "left", "baseline": "middle", "color": "#ffffff"},
 "encoding": {"x": {"datum": 75.9, "type": "quantitative", "scale": {"domain": [-23.804, 263.8], "nice": false, "zero": false}, "axis": null}, "y": {"datum": 2.2951, "type": "quantitative", "scale": {"domain": [2.34398, 3.35434], "nice": false, "zero": false}, "axis": null}}},
{"mark": {"type": "text", "text": "G", "fontSize": 27, "fontWeight": 900, "align": "center", "baseline": "middle", "color": "#ffffff", "font": "DejaVu Sans"},
 "encoding": {"x": {"datum": 102.2, "type": "quantitative", "scale": {"domain": [-23.804, 263.8], "nice": false, "zero": false}, "axis": null}, "y": {"datum": 2.2951, "type": "quantitative", "scale": {"domain": [2.34398, 3.35434], "nice": false, "zero": false}, "axis": null}}},
{"mark": {"type": "text", "text": "格隆汇", "fontSize": 16, "fontWeight": "bold", "align": "left", "baseline": "middle", "color": "#ffffff"},
 "encoding": {"x": {"datum": 107.0, "type": "quantitative", "scale": {"domain": [-23.804, 263.8], "nice": false, "zero": false}, "axis": null}, "y": {"datum": 2.3045, "type": "quantitative", "scale": {"domain": [2.34398, 3.35434], "nice": false, "zero": false}, "axis": null}}},
{"mark": {"type": "text", "text": "www.gelonghui.com", "fontSize": 5, "align": "center", "baseline": "middle", "color": "#ffffff"},
 "encoding": {"x": {"datum": 113.7, "type": "quantitative", "scale": {"domain": [-23.804, 263.8], "nice": false, "zero": false}, "axis": null}, "y": {"datum": 2.2718, "type": "quantitative", "scale": {"domain": [2.34398, 3.35434], "nice": false, "zero": false}, "axis": null}}},
{"mark": {"type": "rule", "color": "#ffffff", "opacity": 0.6, "strokeWidth": 1},
 "encoding": {"x": {"datum": 124.6, "type": "quantitative", "scale": {"domain": [-23.804, 263.8], "nice": false, "zero": false}, "axis": null}, "y": {"datum": 2.3254, "type": "quantitative", "scale": {"domain": [2.34398, 3.35434], "nice": false, "zero": false}, "axis": null}, "y2": {"datum": 2.2602}}},
{"mark": {"type": "text", "text": "全球视野 下注中国", "fontSize": 15, "fontWeight": "bold", "align": "left", "baseline": "middle", "color": "#ffffff"},
 "encoding": {"x": {"datum": 127.7, "type": "quantitative", "scale": {"domain": [-23.804, 263.8], "nice": false, "zero": false}, "axis": null}, "y": {"datum": 2.2951, "type": "quantitative", "scale": {"domain": [2.34398, 3.35434], "nice": false, "zero": false}, "axis": null}}}
]
}
